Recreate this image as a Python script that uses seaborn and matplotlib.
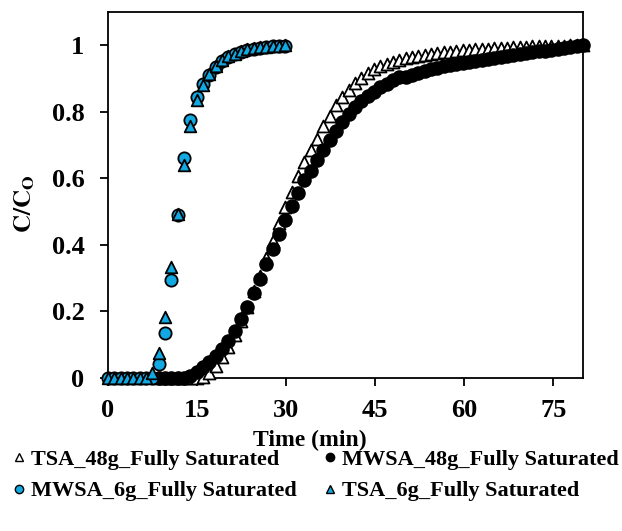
import numpy as np
import pandas as pd
import matplotlib
matplotlib.use("Agg")
import matplotlib.pyplot as plt
import seaborn as sns

# Sampling interval of the effluent measurements (64 s), in minutes
step_min = 64 / 60

# C/C0 for the 6 g beds, sampled from t = 0
tsa_6g = [0, 0, 0, 0, 0, 0, 0, 0.015, 0.074, 0.184, 0.333, 0.493, 0.64, 0.756,
          0.836, 0.88, 0.915, 0.938, 0.955, 0.967, 0.975, 0.983, 0.988, 0.991,
          0.994, 0.996, 0.998, 0.999, 1.0]
mwsa_6g = [0, 0, 0, 0, 0, 0, 0, 0, 0.042, 0.134, 0.295, 0.49, 0.66, 0.774,
           0.844, 0.884, 0.912, 0.935, 0.952, 0.964, 0.973, 0.98, 0.986, 0.99,
           0.993, 0.995, 0.997, 0.998, 0.999]

# C/C0 for the 48 g beds, sampled from the 9th reading onward
first_48g = 8
mwsa_48g = [0, 0, 0, 0, 0, 0.006, 0.019, 0.033, 0.048, 0.066, 0.087, 0.112,
            0.142, 0.176, 0.214, 0.255, 0.298, 0.342, 0.388, 0.432, 0.475,
            0.517, 0.557, 0.594, 0.622, 0.655, 0.684, 0.715, 0.743, 0.77,
            0.793, 0.813, 0.832, 0.847, 0.861, 0.874, 0.885, 0.895, 0.904,
            0.906, 0.912, 0.918, 0.923, 0.928, 0.933, 0.937, 0.941, 0.945,
            0.948, 0.951, 0.954, 0.957, 0.96, 0.963, 0.966, 0.969, 0.971,
            0.974, 0.977, 0.979, 0.982, 0.984, 0.987, 0.99, 0.992, 0.995,
            0.997, 1.0]
tsa_48g = [0, 0, 0, 0, 0, 0, 0, 0.004, 0.016, 0.035, 0.062, 0.094, 0.13, 0.17,
           0.214, 0.26, 0.308, 0.36, 0.413, 0.465, 0.514, 0.56, 0.607, 0.648,
           0.684, 0.718, 0.757, 0.787, 0.82, 0.845, 0.867, 0.886, 0.902,
           0.916, 0.928, 0.937, 0.944, 0.951, 0.956, 0.961, 0.965, 0.969,
           0.972, 0.975, 0.977, 0.979, 0.981, 0.983, 0.985, 0.987, 0.988,
           0.989, 0.99, 0.991, 0.992, 0.993, 0.994, 0.995, 0.996, 0.997,
           0.997, 0.998, 0.998, 0.999, 0.999, 1.0, 1.0, 1.0]

x_ticks = [0, 15, 30, 45, 60, 75]
y_ticks = [0, 0.2, 0.4, 0.6, 0.8, 1.0]
y_tick_labels = ["0", "0.2", "0.4", "0.6", "0.8", "1"]

t_6g = np.arange(len(tsa_6g)) * step_min
t_48g = (np.arange(len(mwsa_48g)) + first_48g) * step_min

sns.set_theme(style="ticks")
plt.rcParams["font.family"] = ["Liberation Serif", "DejaVu Serif"]
plt.rcParams["font.weight"] = "bold"
plt.rcParams["mathtext.fontset"] = "stix"
for key in ["text.color", "axes.labelcolor", "xtick.color", "ytick.color",
            "axes.edgecolor"]:
    plt.rcParams[key] = "black"

blue = "#12A9E3"

fig = plt.figure(figsize=(6.22, 5.31), dpi=100)
ax = fig.add_axes([108 / 622, 1 - 378 / 531, (583 - 108) / 622, (378 - 12) / 531])

series = [
    ("TSA_48g_Fully Saturated", t_48g, tsa_48g, "^", "white", 74),
    ("MWSA_48g_Fully Saturated", t_48g, mwsa_48g, "o", "black", 84),
    ("MWSA_6g_Fully Saturated", t_6g, mwsa_6g, "o", blue, 78),
    ("TSA_6g_Fully Saturated", t_6g, tsa_6g, "^", blue, 70),
]

handles = {}
for name, t, y, mk, fc, size in series:
    df = pd.DataFrame({"t": t, "c": y})
    sns.scatterplot(data=df, x="t", y="c", marker=mk, s=size, color=fc,
                    edgecolor="black", linewidth=1.3, ax=ax, clip_on=False,
                    zorder=3, legend=False)
    handles[name] = plt.Line2D([], [], linestyle="none", marker=mk,
                               markersize=6, markerfacecolor=fc,
                               markeredgecolor="black", markeredgewidth=1.0)

ax.set_xlim(0, 80)
ax.set_ylim(0, 1.1)
ax.set_xticks(x_ticks)
ax.set_yticks(y_ticks, y_tick_labels)
ax.tick_params(axis="both", which="both", direction="out", length=6,
               width=1.3, color="black", labelcolor="black", labelsize=19,
               pad=9)
ax.tick_params(axis="y", pad=11)
for lab in ax.get_xticklabels() + ax.get_yticklabels():
    lab.set_fontweight("bold")
for sp in ax.spines.values():
    sp.set_visible(True)
    sp.set_color("black")
    sp.set_linewidth(1.3)

ax.set_xlabel("Time (min)", fontsize=17, fontweight="bold", color="black")
ax.xaxis.set_label_coords(0.425, -0.142)
ax.set_ylabel(r"$\mathbf{C/C_O}$", fontsize=18, color="black")
ax.yaxis.set_label_coords(-0.15, 0.475)

order = ["TSA_48g_Fully Saturated", "MWSA_6g_Fully Saturated",
         "MWSA_48g_Fully Saturated", "TSA_6g_Fully Saturated"]
fig.legend([handles[k] for k in order], order, ncol=2, frameon=False,
           loc="upper left", bbox_to_anchor=(0.0, 1 - 437 / 531),
           prop={"family": "Liberation Serif", "weight": "bold", "size": 16},
           handlelength=0.6, handletextpad=0.25, columnspacing=1.2,
           labelspacing=0.5, borderaxespad=0.15)

fig.savefig("out.png", dpi=100)
